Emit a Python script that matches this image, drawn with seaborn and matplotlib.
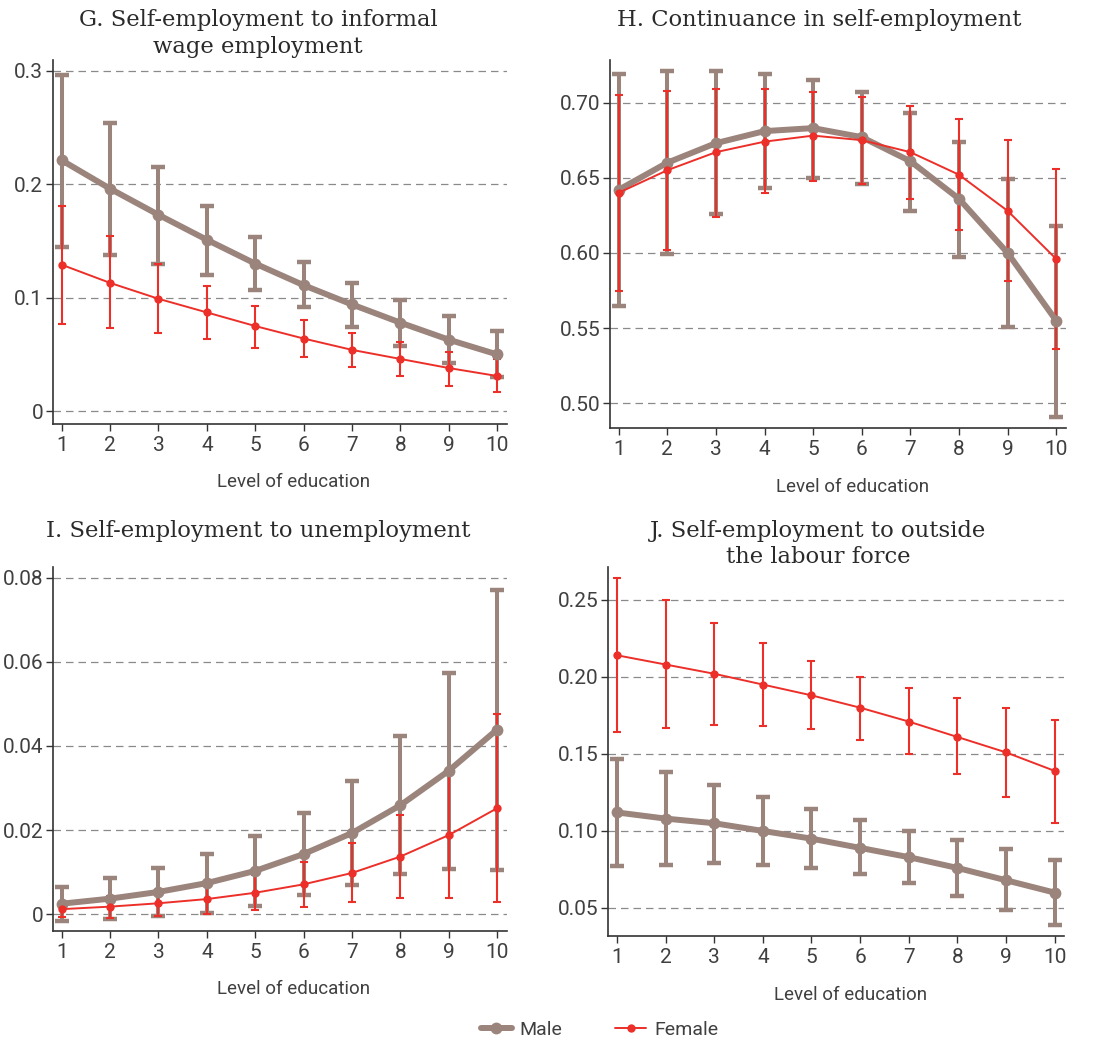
import pandas as pd
import numpy as np
import matplotlib
matplotlib.use("Agg")
import matplotlib.pyplot as plt
import seaborn as sns
from matplotlib.lines import Line2D

# niveles de educación
edu = [1, 2, 3, 4, 5, 6, 7, 8, 9, 10]

# G. Self-employment to informal wage employment
g_male = [0.221, 0.196, 0.173, 0.151, 0.130, 0.111, 0.094, 0.078, 0.063, 0.050]
g_male_lo = [0.145, 0.138, 0.130, 0.120, 0.107, 0.092, 0.074, 0.057, 0.042, 0.030]
g_male_hi = [0.296, 0.254, 0.215, 0.181, 0.153, 0.131, 0.113, 0.098, 0.084, 0.071]
g_fem = [0.129, 0.113, 0.099, 0.087, 0.075, 0.064, 0.054, 0.046, 0.038, 0.031]
g_fem_lo = [0.077, 0.073, 0.069, 0.064, 0.056, 0.048, 0.039, 0.031, 0.022, 0.017]
g_fem_hi = [0.181, 0.154, 0.130, 0.110, 0.093, 0.080, 0.069, 0.061, 0.052, 0.046]

# H. Continuance in self-employment
h_male = [0.642, 0.660, 0.673, 0.681, 0.683, 0.677, 0.661, 0.636, 0.600, 0.555]
h_male_lo = [0.565, 0.599, 0.626, 0.643, 0.650, 0.646, 0.628, 0.597, 0.551, 0.491]
h_male_hi = [0.719, 0.721, 0.721, 0.719, 0.715, 0.707, 0.693, 0.674, 0.649, 0.618]
h_fem = [0.640, 0.655, 0.667, 0.674, 0.678, 0.675, 0.667, 0.652, 0.628, 0.596]
h_fem_lo = [0.575, 0.602, 0.624, 0.640, 0.648, 0.646, 0.636, 0.615, 0.581, 0.536]
h_fem_hi = [0.705, 0.708, 0.709, 0.709, 0.707, 0.704, 0.698, 0.689, 0.675, 0.656]

# I. Self-employment to unemployment
i_male = [0.0025, 0.0037, 0.0053, 0.0074, 0.0103, 0.0143, 0.0193, 0.0259, 0.0341, 0.0439]
i_male_lo = [-0.0015, -0.0012, -0.0005, 0.0004, 0.0020, 0.0045, 0.0070, 0.0095, 0.0108, 0.0105]
i_male_hi = [0.0065, 0.0085, 0.0110, 0.0143, 0.0186, 0.0240, 0.0316, 0.0424, 0.0574, 0.0771]
i_fem = [0.0012, 0.0018, 0.0026, 0.0036, 0.0051, 0.0071, 0.0098, 0.0137, 0.0188, 0.0252]
i_fem_lo = [-0.0006, -0.0008, -0.0005, 0.0001, 0.0009, 0.0018, 0.0029, 0.0038, 0.0039, 0.0029]
i_fem_hi = [0.0030, 0.0043, 0.0057, 0.0071, 0.0093, 0.0125, 0.0169, 0.0236, 0.0337, 0.0475]

# J. Self-employment to outside the labour force
j_male = [0.112, 0.108, 0.105, 0.100, 0.095, 0.089, 0.083, 0.076, 0.068, 0.060]
j_male_lo = [0.077, 0.078, 0.079, 0.078, 0.076, 0.072, 0.066, 0.058, 0.049, 0.039]
j_male_hi = [0.147, 0.138, 0.130, 0.122, 0.114, 0.107, 0.100, 0.094, 0.088, 0.081]
j_fem = [0.214, 0.208, 0.202, 0.195, 0.188, 0.180, 0.171, 0.161, 0.151, 0.139]
j_fem_lo = [0.164, 0.167, 0.169, 0.168, 0.166, 0.159, 0.150, 0.137, 0.122, 0.105]
j_fem_hi = [0.264, 0.250, 0.235, 0.222, 0.210, 0.200, 0.193, 0.186, 0.180, 0.172]

titles = ["G. Self-employment to informal\nwage employment",
          "H. Continuance in self-employment",
          "I. Self-employment to unemployment",
          "J. Self-employment to outside\nthe labour force"]

g_ticks = [0, 0.1, 0.2, 0.3]
g_labels = ["0", "0.1", "0.2", "0.3"]
h_ticks = [0.50, 0.55, 0.60, 0.65, 0.70]
h_labels = ["0.50", "0.55", "0.60", "0.65", "0.70"]
i_ticks = [0, 0.02, 0.04, 0.06, 0.08]
i_labels = ["0", "0.02", "0.04", "0.06", "0.08"]
j_ticks = [0.05, 0.10, 0.15, 0.20, 0.25]
j_labels = ["0.05", "0.10", "0.15", "0.20", "0.25"]

MALE = "#9b847b"
FEMALE = "#ec2f29"
TXT = "#404040"

sns.set_style("white")
plt.rcParams['font.family'] = ['Roboto', 'DejaVu Sans']
plt.rcParams['text.color'] = TXT
plt.rcParams['axes.labelcolor'] = TXT
plt.rcParams['xtick.color'] = TXT
plt.rcParams['ytick.color'] = TXT


def armar(mid, lo, hi, sexo):
    # tres filas por nivel: bajo, medio, alto -> mediana = medio, rango = IC
    filas = []
    for k in range(len(edu)):
        for v in (lo[k], mid[k], hi[k]):
            filas.append({"edu": edu[k], "val": v, "sexo": sexo})
    return pd.DataFrame(filas)


paneles = [
    (g_male, g_male_lo, g_male_hi, g_fem, g_fem_lo, g_fem_hi, g_ticks, g_labels, (-0.0114, 0.309)),
    (h_male, h_male_lo, h_male_hi, h_fem, h_fem_lo, h_fem_hi, h_ticks, h_labels, (0.4834, 0.728)),
    (i_male, i_male_lo, i_male_hi, i_fem, i_fem_lo, i_fem_hi, i_ticks, i_labels, (-0.004, 0.0826)),
    (j_male, j_male_lo, j_male_hi, j_fem, j_fem_lo, j_fem_hi, j_ticks, j_labels, (0.032, 0.2714)),
]

posiciones = [
    [0.048, 0.593, 0.411, 0.349],
    [0.5525, 0.589, 0.413, 0.353],
    [0.048, 0.1065, 0.411, 0.3495],
    [0.551, 0.102, 0.413, 0.354],
]
# titulos: centro x y borde superior en coordenadas de figura
titulo_xy = [(0.2337, 0.991), (0.742, 0.991), (0.2337, 0.501), (0.741, 0.501)]

fig = plt.figure(figsize=(11.04, 10.42), dpi=100)

for n, (p, pos) in enumerate(zip(paneles, posiciones)):
    mm, ml, mh, fm, fl, fh, ticks, labels, ylim = p
    ax = fig.add_axes(pos)
    for t in ticks:
        ax.axhline(t, color="#8a8a8a", linestyle=(0, (6, 4)), linewidth=0.9, zorder=0)

    df_m = armar(mm, ml, mh, "Male")
    df_f = armar(fm, fl, fh, "Female")

    sns.lineplot(data=df_m, x="edu", y="val", estimator="median", errorbar=("pi", 100),
                 err_style="bars", color=MALE, linewidth=4.3, marker="o", markersize=8.5,
                 markeredgewidth=0,
                 err_kws=dict(capsize=4.7, elinewidth=2.9, capthick=3.2, ecolor=MALE),
                 ax=ax, legend=False, zorder=3)
    sns.lineplot(data=df_f, x="edu", y="val", estimator="median", errorbar=("pi", 100),
                 err_style="bars", color=FEMALE, linewidth=1.4, marker="o", markersize=6,
                 markeredgewidth=0,
                 err_kws=dict(capsize=2.7, elinewidth=1.5, capthick=1.5, ecolor=FEMALE),
                 ax=ax, legend=False, zorder=4)

    ax.set_xlim(0.82, 10.2)
    ax.set_ylim(*ylim)
    ax.set_xticks(edu)
    ax.set_xticklabels([str(e) for e in edu])
    ax.set_yticks(ticks)
    ax.set_yticklabels(labels)
    ax.tick_params(axis="both", direction="out", length=5, width=1, labelsize=15,
                   color="#333333", bottom=True, left=True)
    ax.tick_params(axis="y", pad=2)
    ax.set_xlabel("Level of education", fontsize=13.5)
    ax.xaxis.set_label_coords(0.531, -0.135)
    ax.set_ylabel("")
    sns.despine(ax=ax)
    for s in ["left", "bottom"]:
        ax.spines[s].set_color("#333333")
        ax.spines[s].set_linewidth(1.2)
    tx, ty = titulo_xy[n]
    fig.text(tx, ty, titles[n], fontsize=16.3, family=["DejaVu Serif"], color="#2a2a2a",
             ha="center", va="top", linespacing=1.25)

handles = [
    Line2D([0], [0], color=MALE, linewidth=4.3, marker="o", markersize=8.5, markeredgewidth=0),
    Line2D([0], [0], color=FEMALE, linewidth=1.4, marker="o", markersize=6, markeredgewidth=0),
]
fig.legend(handles, ["Male", "Female"], loc="center", bbox_to_anchor=(0.543, 0.0115),
           ncol=2, frameon=False, fontsize=14, handlelength=1.6,
           handletextpad=0.4, columnspacing=2.7)

fig.savefig("out.png", dpi=100)
